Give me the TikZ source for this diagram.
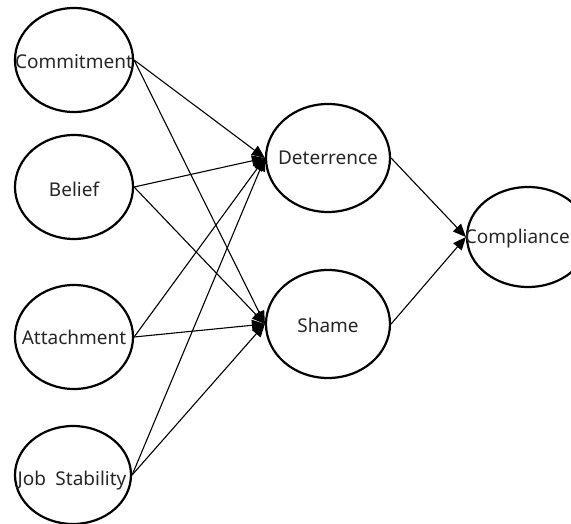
\documentclass[tikz,border=0pt]{standalone}
\usepackage{fontspec}
\setmainfont{Noto Sans}
\usetikzlibrary{arrows.meta,shapes.geometric}
\begin{document}
\begin{tikzpicture}[x=1pt,y=-1pt,
  var/.style={draw=black,line width=2.2pt,ellipse,inner sep=0pt},
  lbl/.style={font=\fontsize{19}{22}\selectfont,text=black!85},
  conn/.style={line width=1.1pt,-{Triangle[length=13pt,width=11pt]}}]
\useasboundingbox (0,0) rectangle (571,524);
\node[var,minimum width=118pt,minimum height=104pt] (com) at (74,60) {};
\node[var,minimum width=118pt,minimum height=104pt] (bel) at (74,187) {};
\node[var,minimum width=118pt,minimum height=104pt] (att) at (74,337) {};
\node[var,minimum width=116pt,minimum height=98pt] (job) at (73,475) {};
\node[var,minimum width=124pt,minimum height=108pt] (det) at (328,158) {};
\node[var,minimum width=124pt,minimum height=108pt] (sha) at (328,324) {};
\node[var,minimum width=122pt,minimum height=100pt] (cmp) at (528,237) {};
\node[lbl] (tcom) at (74,62) {Commitment};
\node[lbl] (tbel) at (74,189) {Belief};
\node[lbl] (tatt) at (74,337) {Attachment};
\node[lbl] (tjob) at (72,481) {Job\enspace Stability};
\node[lbl] (tdet) at (328,158) {Deterrence};
\node[lbl] (tsha) at (328,325) {Shame};
\node[lbl,anchor=east,inner xsep=1pt] (tcmp) at (571,239) {Compliance};
\foreach \s in {com,bel,att,job}{
  \draw[conn] (\s.east) -- (det.west);
  \draw[conn] (\s.east) -- (sha.west);
}
\draw[conn] (det.east) -- (cmp.west);
\draw[conn] (sha.east) -- (cmp.west);
\end{tikzpicture}
\end{document}
